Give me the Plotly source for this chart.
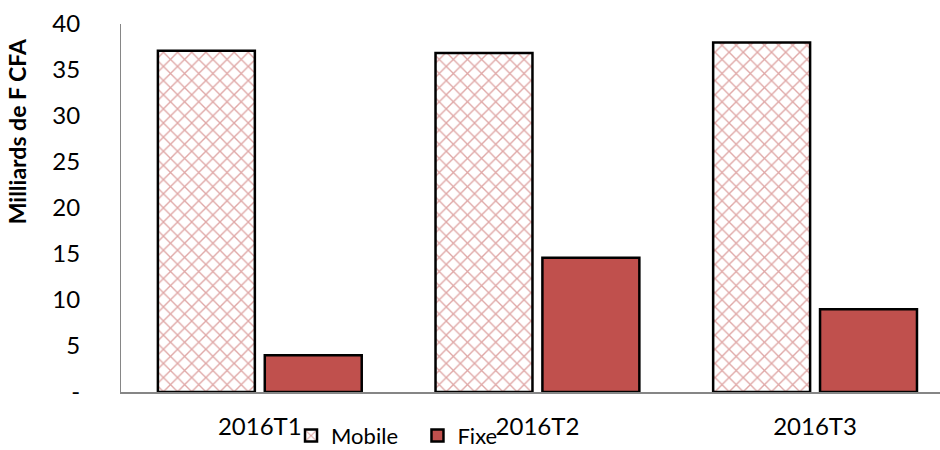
import plotly.graph_objects as go

categories = ["2016T1", "2016T2", "2016T3"]
mobile = [37.1, 36.85, 38.0]
fixe = [4.0, 14.6, 9.0]
y_ticks = [0, 5, 10, 15, 20, 25, 30, 35, 40]
y_ticklabels = ["-", "5", "10", "15", "20", "25", "30", "35", "40"]
y_title = "Milliards de F CFA"

RED = "#C0504D"
FONT = "Lato"

fig = go.Figure()
fig.add_trace(go.Bar(
    name="Mobile", x=categories, y=mobile, legend="legend",
    marker=dict(color="white", line=dict(color="black", width=2.5),
                pattern=dict(shape="x", fgcolor=RED, bgcolor="white", size=10, solidity=0.25)),
))
fig.add_trace(go.Bar(
    name="Fixe", x=categories, y=fixe, legend="legend2",
    marker=dict(color=RED, line=dict(color="black", width=2.5)),
))

leg_common = dict(orientation="h", xanchor="left", y=-0.062, yanchor="top",
                  font=dict(family=FONT, size=22), bgcolor="rgba(0,0,0,0)",
                  itemwidth=30, tracegroupgap=0)

fig.update_layout(
    width=940, height=450,
    margin=dict(l=121, r=0, t=24, b=58, autoexpand=False),
    paper_bgcolor="white", plot_bgcolor="white",
    barmode="group", bargap=0.23, bargroupgap=0.093,
    font=dict(family=FONT, size=24, color="black"),
    showlegend=True,
    legend=dict(x=0.2076, **leg_common),
    legend2=dict(x=0.362, **leg_common),
    xaxis=dict(range=[-0.5, 2.45], showgrid=False, showline=True, linecolor="#868686",
               linewidth=2, ticks="", ticklabelstandoff=12, zeroline=False),
    yaxis=dict(range=[0, 40], tickvals=y_ticks, ticktext=y_ticklabels, showgrid=False,
               showline=True, linecolor="#868686", linewidth=1, ticks="",
               ticklabelstandoff=35, zeroline=False),
    annotations=[dict(text="<b>" + y_title + "</b>", xref="paper", yref="paper",
                      x=-0.126, y=0.708, xanchor="center", yanchor="middle",
                      textangle=-90, showarrow=False, font=dict(family=FONT, size=23))],
)

fig.write_html("out.html", config={"displayModeBar": False},
               post_script="document.body.style.margin='0';document.body.style.overflow='hidden';")
